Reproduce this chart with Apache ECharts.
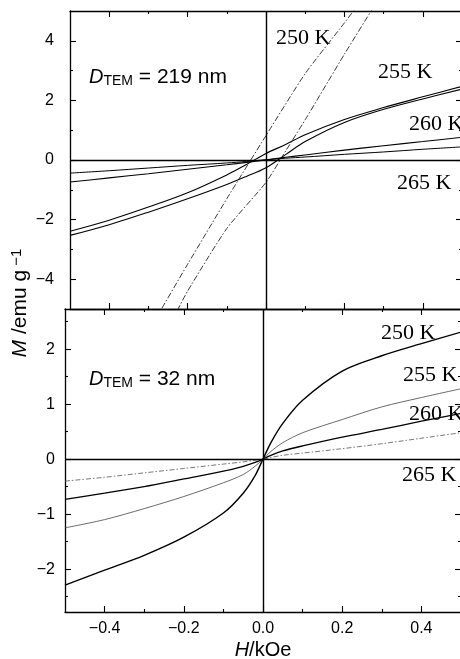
<!DOCTYPE html>
<html><head><meta charset="utf-8">
<script src="https://cdn.jsdelivr.net/npm/echarts@6/dist/echarts.min.js"></script>
<style>html,body{margin:0;padding:0;background:#fff}#c{width:460px;height:659px}</style>
</head><body><div id="c"></div>
<script>
// ---------- data ----------
// Top panel: D_TEM = 219 nm (hysteresis loops)
const hTop250A = [-0.28, -0.2, -0.1, 0, 0.1, 0.2, 0.24];
const mTop250A = [-5.3, -3.5, -1.3, 0.82, 2.9, 4.6, 5.3];
const hTop250B = [-0.24, -0.2, -0.1, 0, 0.05, 0.1, 0.2, 0.28];
const mTop250B = [-5.4, -4.4, -2.3, -0.75, 0.3, 1.35, 3.55, 5.25];
const hTop = [-0.5, -0.4, -0.3, -0.2, -0.1, -0.05, 0, 0.05, 0.1, 0.2, 0.3, 0.4, 0.5];
const mTop255Up = [-2.39, -2.02, -1.58, -1.1, -0.5, -0.15, 0.22, 0.52, 0.85, 1.36, 1.76, 2.12, 2.47];
const mTop255Down = [-2.53, -2.17, -1.75, -1.3, -0.82, -0.55, -0.26, 0.18, 0.62, 1.26, 1.7, 2.05, 2.38];
const mTop260 = [-0.74, -0.6, -0.46, -0.31, -0.16, -0.08, 0, 0.09, 0.17, 0.33, 0.48, 0.62, 0.76];
const mTop265 = [-0.44, -0.36, -0.27, -0.18, -0.1, -0.05, 0.01, 0.06, 0.1, 0.19, 0.27, 0.36, 0.44];
// Bottom panel: D_TEM = 32 nm
const hBot = [-0.5, -0.4, -0.3, -0.2, -0.1, -0.05, -0.02, 0, 0.02, 0.05, 0.1, 0.2, 0.3, 0.4, 0.5];
const mBot250 = [-2.29, -2.02, -1.75, -1.42, -0.98, -0.62, -0.3, 0, 0.3, 0.65, 1.07, 1.6, 1.88, 2.1, 2.31];
const mBot255 = [-1.25, -1.1, -0.9, -0.68, -0.43, -0.28, -0.13, 0, 0.14, 0.3, 0.48, 0.72, 0.95, 1.12, 1.28];
const mBot260 = [-0.73, -0.62, -0.5, -0.36, -0.22, -0.13, -0.06, 0, 0.07, 0.15, 0.24, 0.4, 0.54, 0.69, 0.83];
const mBot265 = [-0.40, -0.33, -0.25, -0.17, -0.09, -0.05, -0.02, 0, 0.03, 0.07, 0.11, 0.19, 0.28, 0.38, 0.48];
// ticks
const xMajor = [-0.4, -0.2, 0, 0.2, 0.4];
const xMinor = [-0.3, -0.1, 0.1, 0.3];
const yTopMajor = [-4, -2, 0, 2, 4];
const yTopMinor = [-3, -1, 1, 3];
const yBotMajor = [-2, -1, 0, 1, 2];
const yBotMinor = [-2.5, -1.5, -0.5, 0.5, 1.5, 2.5];
const xRange = [-0.5, 0.5];
const yTopRange = [-5, 5];
const yBotRange = [-2.78, 2.73];
// labels
const tempLabels = ['250 K', '255 K', '260 K', '265 K'];
const sizeTop = '219 nm';
const sizeBot = '32 nm';

// ---------- chart ----------
const SANS = '"Liberation Sans", Arial, sans-serif';
const SERIF = '"Liberation Serif", "Times New Roman", serif';
const minus = s => String(s).replace('-', '\u2212');
const fmtX = v => minus((+v).toFixed(1));
const fmtY = v => minus(Math.round(v));

function ax(grid, pos, range, vals, len, major, label, margin) {
  return {
    type: 'value', gridIndex: grid, position: pos, min: range[0], max: range[1],
    axisLine: { show: major, onZero: false, lineStyle: { color: '#000', width: 1.3 } },
    axisTick: { show: true, inside: true, length: len, customValues: vals, lineStyle: { color: '#000', width: 1.1 } },
    axisLabel: { show: !!label, customValues: vals, margin: margin || 8, color: '#000',
      fontFamily: SANS, fontSize: 16, formatter: label || undefined },
    splitLine: { show: false }, minorTick: { show: false }
  };
}
const xAxes = [
  ax(0, 'bottom', xRange, xMajor, 6, true),
  ax(0, 'bottom', xRange, xMinor, 3, false),
  ax(0, 'top', xRange, xMajor, 6, true),
  ax(0, 'top', xRange, xMinor, 3, false),
  ax(1, 'bottom', xRange, xMajor, 6, true, fmtX, 9),
  ax(1, 'bottom', xRange, xMinor, 3, false),
  ax(1, 'top', xRange, xMajor, 6, true),
  ax(1, 'top', xRange, xMinor, 3, false)
];
const yAxes = [
  ax(0, 'left', yTopRange, yTopMajor, 6, true, fmtY, 16),
  ax(0, 'left', yTopRange, yTopMinor, 3, false),
  ax(0, 'right', yTopRange, yTopMajor, 6, true),
  ax(0, 'right', yTopRange, yTopMinor, 3, false),
  ax(1, 'left', yBotRange, yBotMajor, 6, true, fmtY, 10),
  ax(1, 'left', yBotRange, yBotMinor, 3, false),
  ax(1, 'right', yBotRange, yBotMajor, 6, true),
  ax(1, 'right', yBotRange, yBotMinor, 3, false)
];
const zip = (h, m) => h.map((v, i) => [v, m[i]]);
function line(name, panel, h, m, style, smooth) {
  return {
    name, type: 'line', xAxisIndex: panel ? 4 : 0, yAxisIndex: panel ? 4 : 0,
    data: zip(h, m), showSymbol: false, symbol: 'none', smooth: smooth || false,
    lineStyle: Object.assign({ color: '#000', width: 1.1 }, style), silent: true, animation: false
  };
}
const zeroLines = {
  silent: true, symbol: 'none', label: { show: false }, animation: false,
  lineStyle: { color: '#000', type: 'solid', width: 1.4 },
  data: [{ yAxis: 0 }, { xAxis: 0 }]
};
const dashDot = { type: [6, 2, 1.5, 2], width: 0.9, color: '#222' };
const series = [
  Object.assign(line('250 K a', 0, hTop250A, mTop250A, dashDot, 0.2), { markLine: zeroLines }),
  line('250 K b', 0, hTop250B, mTop250B, dashDot, 0.2),
  line('255 K up', 0, hTop, mTop255Up, { width: 1.1 }, 0.35),
  line('255 K down', 0, hTop, mTop255Down, { width: 1.1 }, 0.35),
  line('260 K', 0, hTop, mTop260, { width: 1.1 }, 0.3),
  line('265 K', 0, hTop, mTop265, { width: 1.0 }, 0.3),
  Object.assign(line('250 K', 1, hBot, mBot250, { width: 1.4 }, 0.3), { markLine: zeroLines }),
  line('255 K', 1, hBot, mBot255, { width: 0.8, color: '#444' }, 0.3),
  line('260 K', 1, hBot, mBot260, { width: 1.3 }, 0.3),
  line('265 K', 1, hBot, mBot265, { width: 0.8, color: '#555', type: [5, 2, 1.5, 2] }, 0.3)
];

function tLabel(text, x, y) {
  return { type: 'text', x, y, silent: true,
    style: { text, fill: '#000', font: '22px ' + SERIF, fontSize: 22, fontFamily: SERIF,
      align: 'left', verticalAlign: 'middle', textAlign: 'left', textVerticalAlign: 'middle' } };
}
const rich = {
  i: { fontFamily: SANS, fontSize: 20, fontStyle: 'italic', lineHeight: 22, fill: '#000', color: '#000' },
  n: { fontFamily: SANS, fontSize: 20, lineHeight: 22, fill: '#000', color: '#000' },
  w: { fontFamily: SANS, fontSize: 21, lineHeight: 22, fill: '#000', color: '#000' },
  s: { fontFamily: SANS, fontSize: 14, lineHeight: 12, verticalAlign: 'bottom', fill: '#000', color: '#000' },
  p: { fontFamily: SANS, fontSize: 15, lineHeight: 12, verticalAlign: 'top', fill: '#000', color: '#000' },
  yi: { fontFamily: SANS, fontSize: 21, fontStyle: 'italic', lineHeight: 22, fill: '#000', color: '#000' },
  yn: { fontFamily: SANS, fontSize: 21, lineHeight: 22, fill: '#000', color: '#000' }
};
function rText(text, x, y, extra) {
  return Object.assign({ type: 'text', x, y, silent: true,
    style: { text, rich, fill: '#000', align: 'left', verticalAlign: 'middle' } }, extra || {});
}

const chart = echarts.init(document.getElementById('c'), null, { renderer: 'canvas' });
chart.setOption({
  animation: false,
  backgroundColor: '#fff',
  grid: [
    { left: 70, top: 11, width: 392, height: 298, outerBoundsMode: 'none', containLabel: false },
    { left: 65, top: 309, width: 396, height: 303, outerBoundsMode: 'none', containLabel: false }
  ],
  xAxis: xAxes,
  yAxis: yAxes,
  series,
  graphic: [
    rText('{i|D}{s|TEM}{w| = ' + sizeTop + '}', 89, 77),
    rText('{i|D}{s|TEM}{w| = ' + sizeBot + '}', 89, 379),
    tLabel(tempLabels[0], 276, 38),
    tLabel(tempLabels[1], 378, 72),
    tLabel(tempLabels[2], 409, 124),
    tLabel(tempLabels[3], 397, 183),
    tLabel(tempLabels[0], 381, 333),
    tLabel(tempLabels[1], 403, 375),
    tLabel(tempLabels[2], 409, 414),
    tLabel(tempLabels[3], 402, 475),
    { type: 'text', x: 263, y: 650, silent: true,
      style: { text: '{i|H}{n|/kOe}', rich, align: 'center', verticalAlign: 'middle' } },
    { type: 'text', x: 20, y: 303, rotation: Math.PI / 2, silent: true,
      style: { text: '{yi|M}{yn| /emu g}{p| \u22121}', rich, align: 'center', verticalAlign: 'middle' } }
  ]
});
</script></body></html>
